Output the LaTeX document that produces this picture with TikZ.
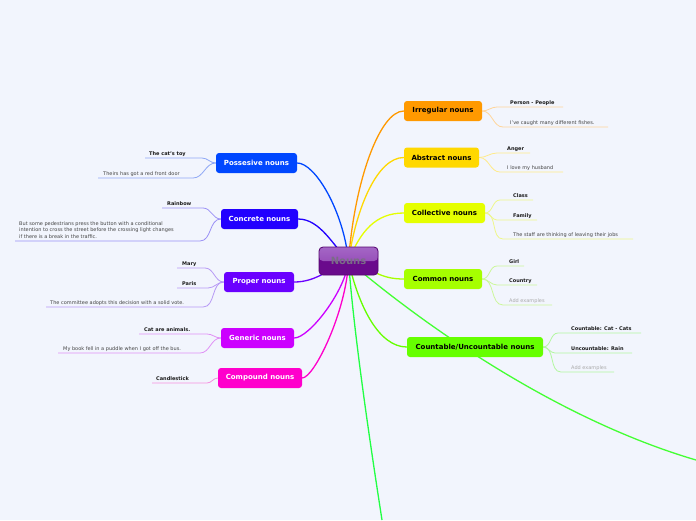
\documentclass[tikz,border=0pt]{standalone}
\usepackage{fontspec}
\setmainfont{DejaVu Sans}
\usetikzlibrary{backgrounds}
\pgfdeclarelayer{bgfill}
\pgfsetlayers{bgfill,background,main}
\definecolor{bg}{HTML}{F2F5FD}
\definecolor{kidbold}{HTML}{1A1A1A}
\definecolor{kidgray}{HTML}{444444}
\definecolor{addgray}{HTML}{AAAAAA}
\definecolor{nounstext}{HTML}{7A6C86}
\definecolor{cenTop}{HTML}{A466C6}
\definecolor{cenMid}{HTML}{8C3CAC}
\definecolor{cenBot}{HTML}{6A0A8C}
\definecolor{cenBorder}{HTML}{56086F}
\definecolor{irrC}{HTML}{FF9900}\definecolor{irrK}{HTML}{FFD59A}
\definecolor{absC}{HTML}{FFD800}\definecolor{absK}{HTML}{FFEB8A}
\definecolor{colC}{HTML}{E5FF00}\definecolor{colK}{HTML}{EEF78A}
\definecolor{comC}{HTML}{A6FF00}\definecolor{comK}{HTML}{CCF79A}
\definecolor{cntC}{HTML}{66FF00}\definecolor{cntK}{HTML}{B3F7A0}
\definecolor{posC}{HTML}{0047FF}\definecolor{posK}{HTML}{8FA8F5}
\definecolor{conC}{HTML}{2200FF}\definecolor{conK}{HTML}{9A8FF5}
\definecolor{proC}{HTML}{6A00FF}\definecolor{proK}{HTML}{B79AF5}
\definecolor{genC}{HTML}{CC00FF}\definecolor{genK}{HTML}{E08FF5}
\definecolor{cmpC}{HTML}{FF00CC}\definecolor{cmpK}{HTML}{F58FE0}
\definecolor{longA}{HTML}{44FF33}
\definecolor{longB}{HTML}{22FF44}
\newcommand\Bk[1]{{\bfseries\color{kidbold}#1}}
\newcommand\Ad[1]{{\color{addgray}#1}}
% right child: parent, name, line colour, junction x, underline y, end x, text x, text
\newcommand\rkid[8]{%
  \coordinate (#2a) at (#4,#5);
  \coordinate (#2b) at (#6,#5);
  \node[kidtext, anchor=base west] (#2) at (#7,#5-3) {#8};
  \begin{scope}[on background layer]
    \draw[kidline,#3] (#1) to[out=0,in=180] (#2a) -- (#2b);
  \end{scope}}
% left child: parent, name, line colour, junction x, underline y, start x, text x, text
\newcommand\lkid[8]{%
  \coordinate (#2a) at (#4,#5);
  \coordinate (#2b) at (#6,#5);
  \node[kidtext, anchor=base west] (#2) at (#7,#5-3) {#8};
  \begin{scope}[on background layer]
    \draw[kidline,#3] (#1) to[out=180,in=0] (#2a) -- (#2b);
  \end{scope}}
\begin{document}
\begin{tikzpicture}[x=1pt,y=-1pt,
  box/.style={rounded corners=3pt, minimum height=20pt, inner sep=0pt,
    font=\fontsize{7}{8}\selectfont\bfseries},
  rbox/.style={box, text=black},
  lbox/.style={box, text=white},
  mainline/.style={line width=1.3pt},
  kidline/.style={line width=0.8pt},
  kidtext/.style={inner sep=0pt, font=\fontsize{5}{6.5}\selectfont, text=kidgray},
  central/.style={rounded corners=4pt, draw=cenBorder, line width=0.8pt, fill=cenBot,
    minimum width=59pt, minimum height=28pt, inner sep=0pt,
    font=\fontsize{10}{12}\selectfont\bfseries, text=nounstext,
    path picture={\fill[top color=cenTop, bottom color=cenMid]
      (path picture bounding box.north west) rectangle (path picture bounding box.east);}}
  ]
\useasboundingbox (0,0) rectangle (696,520);
\begin{pgfonlayer}{bgfill}
  \fill[bg] (0,0) rectangle (696,520);
\end{pgfonlayer}

% central
\node[central] (nouns) at (348.5,261) {Nouns};

% right boxes
\node[rbox, fill=irrC, minimum width=78pt] (irr) at (443,111) {Irregular nouns};
\node[rbox, fill=absC, minimum width=75pt] (abs) at (441.5,157.5) {Abstract nouns};
\node[rbox, fill=colC, minimum width=81pt] (col) at (444.5,213) {Collective nouns};
\node[rbox, fill=comC, minimum width=78pt] (com) at (443,279) {Common nouns};
\node[rbox, fill=cntC, minimum width=136pt] (cnt) at (475,347) {Countable/Uncountable nouns};

% left boxes
\node[lbox, fill=posC, minimum width=81pt] (pos) at (256.5,163) {Possesive nouns};
\node[lbox, fill=conC, minimum width=77pt] (con) at (259.5,219) {Concrete nouns};
\node[lbox, fill=proC, minimum width=70pt] (pro) at (259,282) {Proper nouns};
\node[lbox, fill=genC, minimum width=73pt] (gen) at (257.5,338) {Generic nouns};
\node[lbox, fill=cmpC, minimum width=84pt] (cmp) at (260,378) {Compound nouns};

\coordinate (endA) at (696,460);
\coordinate (endB) at (382,520);

% main connectors
\begin{scope}[on background layer]
  \draw[mainline, irrC] (nouns.center) .. controls +(6,-80) and +(-24,0) .. (irr.west);
  \draw[mainline, absC] (nouns.center) .. controls +(8,-55) and +(-26,0) .. (abs.west);
  \draw[mainline, colC] (nouns.center) .. controls +(12,-30) and +(-28,0) .. (col.west);
  \draw[mainline, comC] (nouns.center) .. controls +(25,8) and +(-25,0) .. (com.west);
  \draw[mainline, cntC] (nouns.center) .. controls +(10,45) and +(-28,0) .. (cnt.west);
  \draw[mainline, longA] (nouns.center) .. controls +(80,68) and +(-136,-40) .. (endA);
  \draw[mainline, longB] (nouns.center) .. controls +(5,68) and +(-14,-90) .. (endB);
  \draw[mainline, posC] (pos.east) .. controls +(18,0) and +(-5,-50) .. (nouns.center);
  \draw[mainline, conC] (con.east) .. controls +(22,0) and +(-15,-15) .. (nouns.center);
  \draw[mainline, proC] (pro.east) .. controls +(22,0) and +(-20,8) .. (nouns.center);
  \draw[mainline, genC] (gen.east) .. controls +(15,0) and +(-3,30) .. (nouns.center);
  \draw[mainline, cmpC] (cmp.east) .. controls +(12,0) and +(-2,50) .. (nouns.center);
\end{scope}

% right children
\rkid{irr.east}{irr1}{irrK}{497}{107}{563}{510}{\Bk{Person - People}}
\rkid{irr.east}{irr2}{irrK}{503}{127}{608}{510}{I've caught many different fishes.}
\rkid{abs.east}{abs1}{absK}{497}{153}{530}{507}{\Bk{Anger}}
\rkid{abs.east}{abs2}{absK}{500}{172}{563}{507}{I love my husband}
\rkid{col.east}{col1}{colK}{500}{200}{533}{513}{\Bk{Class}}
\rkid{col.east}{col2}{colK}{497}{220}{537}{513}{\Bk{Family}}
\rkid{col.east}{col3}{colK}{503}{239}{633}{513}{The staff are thinking of leaving their jobs}
\rkid{com.east}{com1}{comK}{497}{266}{524}{509}{\Bk{Girl}}
\rkid{com.east}{com2}{comK}{497}{285}{537}{509}{\Bk{Country}}
\rkid{com.east}{com3}{comK}{503}{305}{552}{509}{\Ad{Add examples}}
\rkid{cnt.east}{cnt1}{cntK}{558}{333}{641}{571}{\Bk{Countable: Cat - Cats}}
\rkid{cnt.east}{cnt2}{cntK}{555}{353}{632}{571}{\Bk{Uncountable: Rain}}
\rkid{cnt.east}{cnt3}{cntK}{561}{372}{614}{571}{\Ad{Add examples}}

% left children
\lkid{pos.west}{pos1}{posK}{202}{158}{145}{149}{\Bk{The cat's toy}}
\lkid{pos.west}{pos2}{posK}{193}{178}{98}{103}{Theirs has got a red front door}
\lkid{con.west}{con1}{conK}{203}{208}{162}{167}{\Bk{Rainbow}}
\coordinate (con2a) at (200,241);
\coordinate (con2b) at (15,241);
\node[kidtext, anchor=south west, align=left] (con2) at (19,238.6)
  {But some pedestrians press the button with a conditional\\
   intention to cross the street before the crossing light changes\\
   if there is a break in the traffic.};
\begin{scope}[on background layer]
  \draw[kidline, conK] (con.west) to[out=180,in=0] (con2a) -- (con2b);
\end{scope}
\lkid{pro.west}{pro1}{proK}{205}{268}{177}{182}{\Bk{Mary}}
\lkid{pro.west}{pro2}{proK}{208}{288}{177}{182}{\Bk{Paris}}
\lkid{pro.west}{pro3}{proK}{203}{307}{46}{50}{The committee adopts this decision with a solid vote.}
\lkid{gen.west}{gen1}{genK}{207}{334}{139}{144}{\Bk{Cat are animals.}}
\lkid{gen.west}{gen2}{genK}{200}{353}{58}{63}{My book fell in a puddle when I got off the bus.}
\lkid{cmp.west}{cmp1}{cmpK}{207}{383}{152}{156}{\Bk{Candlestick}}
\end{tikzpicture}
\end{document}
